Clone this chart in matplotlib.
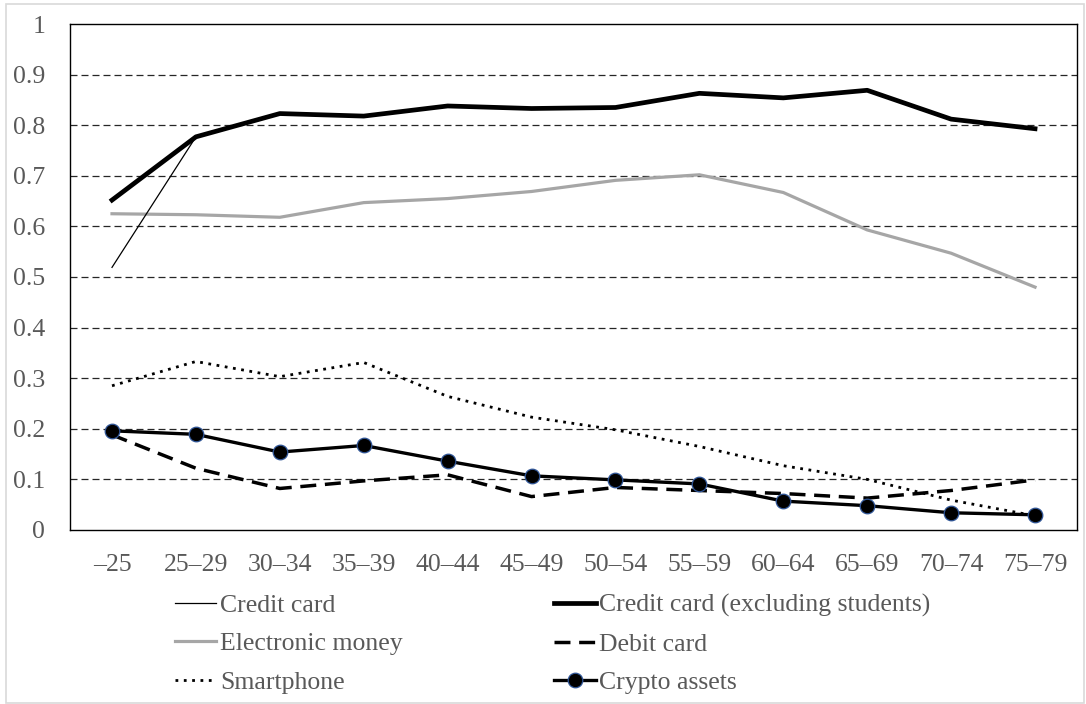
import matplotlib
matplotlib.use("Agg")
import matplotlib.pyplot as plt
from matplotlib.patches import Rectangle

plt.rcParams['font.family'] = ['Liberation Serif', 'DejaVu Serif']

# Age groups
ages = ["\u201325", "25\u201329", "30\u201334", "35\u201339", "40\u201344", "45\u201349",
        "50\u201354", "55\u201359", "60\u201364", "65\u201369", "70\u201374", "75\u201379"]

# Series values
credit_card = [0.519, 0.777, 0.823, 0.818, 0.838, 0.833, 0.835, 0.863, 0.854, 0.869, 0.812, 0.793]
credit_card_ex = [0.652, 0.777, 0.823, 0.818, 0.838, 0.833, 0.835, 0.863, 0.854, 0.869, 0.812, 0.793]
e_money = [0.625, 0.623, 0.618, 0.647, 0.655, 0.669, 0.691, 0.702, 0.667, 0.593, 0.547, 0.480]
debit_card = [0.188, 0.122, 0.082, 0.097, 0.109, 0.066, 0.084, 0.078, 0.072, 0.063, 0.078, 0.099]
smartphone = [0.285, 0.333, 0.303, 0.331, 0.264, 0.223, 0.198, 0.165, 0.127, 0.100, 0.059, 0.028]
crypto = [0.196, 0.189, 0.154, 0.167, 0.136, 0.107, 0.099, 0.091, 0.057, 0.048, 0.034, 0.030]

yticks = [0, 0.1, 0.2, 0.3, 0.4, 0.5, 0.6, 0.7, 0.8, 0.9, 1]
ytick_labels = ["0", "0.1", "0.2", "0.3", "0.4", "0.5", "0.6", "0.7", "0.8", "0.9", "1"]

text_color = "#595959"
fs = 18.5

fig = plt.figure(figsize=(10.86, 7.04), dpi=100)
ax = fig.add_axes([0.0645, 0.2472, 0.9272, 0.7187])

x = list(range(len(ages)))

# gridlines
for v in yticks[1:-1]:
    ax.axhline(v, color="#262626", lw=0.9, linestyle=(0, (5.6, 3.2)), zorder=1)

l1, = ax.plot(x, credit_card, color="black", lw=0.9, zorder=3, label="Credit card")
l2, = ax.plot(x, credit_card_ex, color="black", lw=3.4, zorder=4,
              label="Credit card (excluding students)")
l3, = ax.plot(x, e_money, color="#a6a6a6", lw=2.3, zorder=2, label="Electronic money")
l4, = ax.plot(x, debit_card, color="black", lw=2.5, linestyle=(0, (4.6, 2.5)), zorder=3,
              label="Debit card")
l5, = ax.plot(x, smartphone, color="black", lw=2.0, linestyle=(0, (1, 2.0)), zorder=3,
              label="Smartphone")
l6, = ax.plot(x, crypto, color="black", lw=2.4, marker="o", markersize=10.5,
              markerfacecolor="black", markeredgecolor="#2f5597", markeredgewidth=0.9,
              zorder=5, label="Crypto assets")

ax.set_xlim(-0.5, len(ages) - 0.5)
ax.set_ylim(0, 1)
ax.set_xticks(x)
ax.set_xticklabels(ages)
ax.set_yticks(yticks)
ax.set_yticklabels(ytick_labels)
ax.tick_params(axis="both", length=0, labelsize=fs, labelcolor=text_color)
ax.tick_params(axis="y", pad=18)
ax.tick_params(axis="x", pad=17)
for s in ax.spines.values():
    s.set_color("black")
    s.set_linewidth(1.0)

leg = fig.legend(handles=[l1, l3, l5, l2, l4, l6], ncol=2, loc="center",
                 bbox_to_anchor=(553 / 1086, 1 - 644 / 704), frameon=False,
                 fontsize=fs, handlelength=1.6, handletextpad=0.15,
                 columnspacing=5.9, labelspacing=0.6, borderpad=0)
for t in leg.get_texts():
    t.set_color(text_color)

# light outer border
fig.patches.append(Rectangle((6 / 1086, 1 / 704), 1078 / 1086, 699 / 704,
                             transform=fig.transFigure, fill=False,
                             edgecolor="#d9d9d9", lw=1.2))

fig.savefig("out.png", dpi=100)
